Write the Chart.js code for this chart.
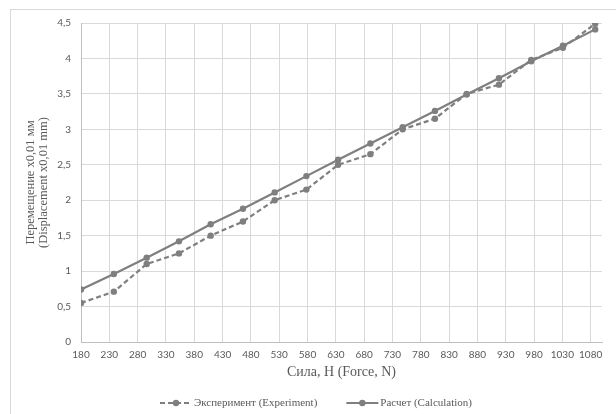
<!DOCTYPE html>
<html>
<head>
<meta charset="utf-8">
<script src="https://cdn.jsdelivr.net/npm/chart.js@4.4.1/dist/chart.umd.min.js"></script>
<style>
    html, body { margin: 0; padding: 0; background: #fff; }
    .wrap { position: relative; width: 616px; height: 414px; overflow: hidden; }
    .frame {
        position: absolute; left: 10px; top: 9px;
        width: 640px; height: 440px;
        border: 1px solid #d9d9d9;
    }
    #chart { position: absolute; left: 0; top: 0; }
</style>
</head>
<body>
<div class="wrap">
    <div class="frame"></div>
    <canvas id="chart" width="616" height="414"></canvas>
</div>

<script>
    // Data
    const forceN = [180, 238, 296, 353, 409, 466, 522, 578, 634, 691, 748, 805, 861, 918, 975, 1031, 1088];
    const experiment = [0.55, 0.71, 1.1, 1.25, 1.5, 1.7, 2.0, 2.15, 2.5, 2.65, 3.0, 3.15, 3.5, 3.63, 3.98, 4.15, 4.49];
    const calculation = [0.74, 0.96, 1.19, 1.42, 1.66, 1.88, 2.11, 2.34, 2.57, 2.8, 3.03, 3.26, 3.49, 3.72, 3.96, 4.18, 4.41];
    const seriesLabels = ['Эксперимент (Experiment)', 'Расчет (Calculation)'];
    const xTicks = [180, 230, 280, 330, 380, 430, 480, 530, 580, 630, 680, 730, 780, 830, 880, 930, 980, 1030, 1080];
    const yTicks = [0, 0.5, 1, 1.5, 2, 2.5, 3, 3.5, 4, 4.5];

    const lineGray = '#7f7f7f';
    const serif = '"Liberation Serif", "DejaVu Serif", serif';
    const sans = 'Lato, "Open Sans", sans-serif';

    const toPoints = ys => ys.map((y, i) => ({ x: forceN[i], y: y }));

    // Excel-style legend under the axis title: short line sample with a dot
    const bottomLegend = {
        id: 'bottomLegend',
        afterDraw(chart) {
            const ctx = chart.ctx;
            const sampleW = 32, gap = 29, y = 403;
            ctx.save();
            ctx.font = '11px ' + serif;
            const widths = chart.data.datasets.map(ds => sampleW + 2 + ctx.measureText(ds.label).width);
            const total = widths.reduce((a, b) => a + b, 0) + gap * (widths.length - 1);
            let x = 316 - total / 2;
            chart.data.datasets.forEach((ds, i) => {
                ctx.strokeStyle = ds.borderColor;
                ctx.lineWidth = ds.borderWidth;
                ctx.setLineDash(ds.borderDash || []);
                ctx.beginPath();
                ctx.moveTo(x, y);
                ctx.lineTo(x + sampleW, y);
                ctx.stroke();
                ctx.setLineDash([]);
                ctx.fillStyle = ds.pointBackgroundColor;
                ctx.beginPath();
                ctx.arc(x + sampleW / 2, y, ds.pointRadius, 0, Math.PI * 2);
                ctx.fill();
                ctx.fillStyle = '#595959';
                ctx.textBaseline = 'middle';
                ctx.textAlign = 'left';
                ctx.fillText(ds.label, x + sampleW + 2, y + 0.5);
                x += widths[i] + gap;
            });
            ctx.restore();
        }
    };

    new Chart(document.getElementById('chart'), {
        type: 'line',
        data: {
            datasets: [{
                label: seriesLabels[0],
                data: toPoints(experiment),
                borderColor: lineGray,
                borderWidth: 2.2,
                borderDash: [5, 3],
                pointRadius: 3.2,
                pointBackgroundColor: lineGray,
                pointBorderWidth: 0,
                tension: 0
            }, {
                label: seriesLabels[1],
                data: toPoints(calculation),
                borderColor: lineGray,
                borderWidth: 2.2,
                pointRadius: 3.2,
                pointBackgroundColor: lineGray,
                pointBorderWidth: 0,
                tension: 0
            }]
        },
        options: {
            responsive: false,
            animation: false,
            devicePixelRatio: 1,
            layout: { padding: { left: 12, right: 14, top: 23, bottom: 28 } },
            plugins: {
                legend: { display: false },
                tooltip: { enabled: false }
            },
            scales: {
                x: {
                    type: 'linear',
                    min: 180,
                    max: 1100,
                    afterBuildTicks: s => { s.ticks = xTicks.map(v => ({ value: v })); },
                    afterFit: s => { s.height = 44; },
                    grid: { color: '#d9d9d9', drawTicks: false },
                    border: { color: '#bfbfbf' },
                    ticks: {
                        padding: 7,
                        maxRotation: 0,
                        autoSkip: false,
                        color: '#595959',
                        font: { family: sans, size: 10 },
                        callback: v => String(v)
                    },
                    title: {
                        display: true,
                        text: 'Сила, H (Force, N)',
                        color: '#595959',
                        font: { family: serif, size: 14, lineHeight: 1.2 },
                        padding: { top: 0, bottom: 5 }
                    }
                },
                y: {
                    min: 0,
                    max: 4.5,
                    afterBuildTicks: s => { s.ticks = yTicks.map(v => ({ value: v })); },
                    afterFit: s => { s.width = 69; },
                    grid: { color: '#d9d9d9', drawTicks: false },
                    border: { color: '#bfbfbf' },
                    ticks: {
                        padding: 10,
                        color: '#595959',
                        font: { family: sans, size: 10 },
                        callback: v => String(v).replace('.', ',')
                    },
                    title: {
                        display: true,
                        text: ['Перемещение x0,01 мм', '(Displacement x0,01 mm)'],
                        color: '#595959',
                        font: { family: serif, size: 12.5, lineHeight: 1.05 },
                        padding: { top: 12, bottom: 0 }
                    }
                }
            }
        },
        plugins: [bottomLegend]
    });
</script>
</body>
</html>
